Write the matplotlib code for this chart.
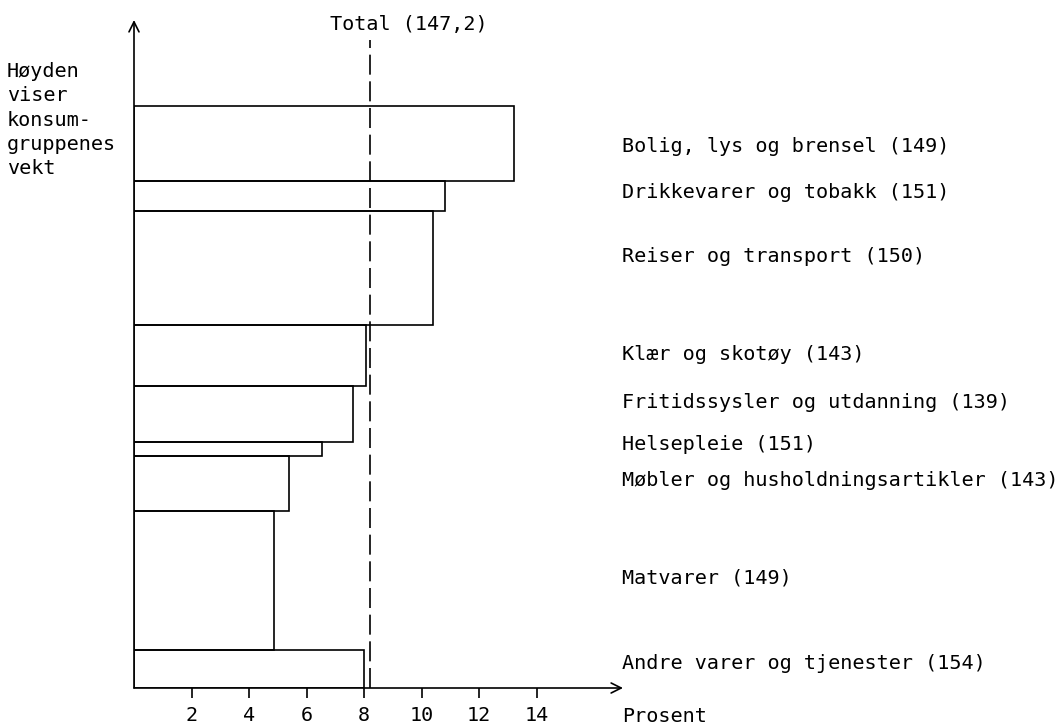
import matplotlib
matplotlib.use("Agg")
import matplotlib.pyplot as plt
import numpy as np

# consumption groups, top to bottom
groups = ["Bolig, lys og brensel (149)", "Drikkevarer og tobakk (151)",
          "Reiser og transport (150)", "Klær og skotøy (143)",
          "Fritidssysler og utdanning (139)", "Helsepleie (151)",
          "Møbler og husholdningsartikler (143)", "Matvarer (149)",
          "Andre varer og tjenester (154)"]
prosent = [13.2, 10.8, 10.4, 8.05, 7.6, 6.55, 5.4, 4.85, 8.0]   # bar length
vekt = [12.9, 5.2, 19.6, 10.5, 9.6, 2.4, 9.5, 23.9, 6.5]        # bar height
total = 8.2
total_label = "Total (147,2)"
xticks = [2, 4, 6, 8, 10, 12, 14]

# small nudges of the right-hand labels (points, up is positive)
label_nudge = [-2.5, 2, 8.5, 0.5, 8, 3, 2, 2, 4]

plt.rcParams['font.family'] = ['DejaVu Sans Mono']
fs = 14.5

fig = plt.figure(figsize=(10.63, 7.24), dpi=100)
ax = fig.add_axes([134/1063, 36/724, 489/1063, 668/724])
xmax, ymax = 17.0, 114.8
ax.set_xlim(0, xmax)
ax.set_ylim(0, ymax)

# stack bars from the bottom up
h = np.array(vekt[::-1])
bottoms = np.concatenate([[0], np.cumsum(h)[:-1]])
ax.barh(bottoms, prosent[::-1], height=h, align='edge', fill=False,
        edgecolor='black', linewidth=1.2)

centers = bottoms + h / 2
for name, yc, dy in zip(groups[::-1], centers, label_nudge[::-1]):
    ax.annotate(name, (16.97, yc), xytext=(0, dy), textcoords='offset points',
                fontsize=fs, va='center', ha='left', annotation_clip=False)

# dashed total line
ax.vlines(total, 0, 111.3, colors='black', linestyles=(0, (12, 4)), linewidth=1.2)
ax.text(total - 1.37, 114.0, total_label, fontsize=fs, va='center', ha='left')

# axes drawn as arrows
for s in ax.spines.values():
    s.set_visible(False)
ax.annotate('', xy=(xmax, 0), xytext=(0, 0),
            arrowprops=dict(arrowstyle='->', lw=1.2, color='black', shrinkA=0, shrinkB=0,
                            mutation_scale=18), annotation_clip=False)
ax.annotate('', xy=(0, ymax), xytext=(0, 0),
            arrowprops=dict(arrowstyle='->', lw=1.2, color='black', shrinkA=0, shrinkB=0,
                            mutation_scale=18), annotation_clip=False)

ax.set_xticks(xticks)
ax.set_xticklabels([str(t) for t in xticks], fontsize=fs)
ax.tick_params(axis='x', direction='out', length=7, width=1.2, pad=6)
ax.set_yticks([])

fig.text(622/1063, 1 - 716/724, "Prosent", fontsize=fs, va='center', ha='left')
fig.text(7/1063, 1 - 62/724, "Høyden\nviser\nkonsum-\ngruppenes\nvekt",
         fontsize=fs, va='top', ha='left', linespacing=1.35)

fig.savefig("out.png", dpi=100)
